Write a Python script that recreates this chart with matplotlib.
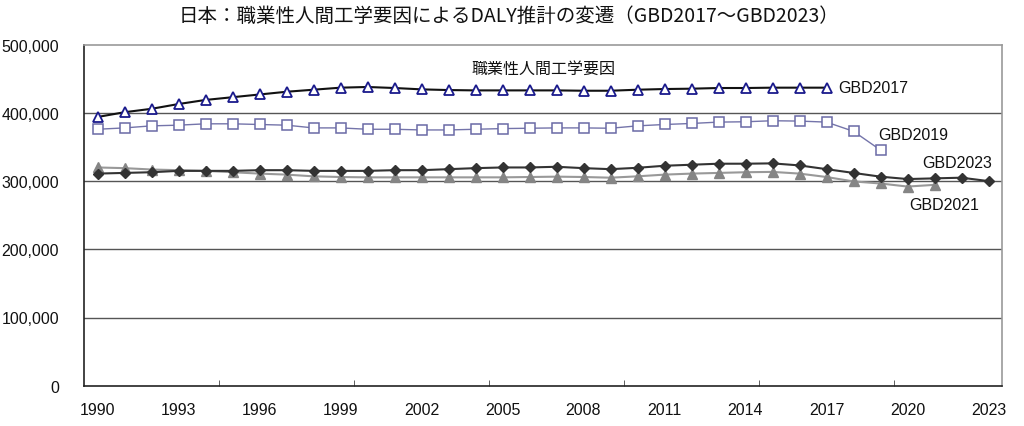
import matplotlib
matplotlib.use("Agg")
import matplotlib.pyplot as plt
from matplotlib.ticker import FuncFormatter, FixedLocator
import numpy as np

JP = ["Noto Sans CJK JP", "DejaVu Sans"]
LAT = ["Liberation Sans", "DejaVu Sans"]

years_2017 = list(range(1990, 2018))
years_2019 = list(range(1990, 2020))
years_2021 = list(range(1990, 2022))
years_2023 = list(range(1990, 2024))

gbd2017 = [394000, 401000, 406000, 413000, 419000, 423000, 427000, 431000, 434000, 437000,
           438000, 436500, 434500, 433500, 433000, 433000, 433000, 433000, 432500, 432500,
           434000, 435000, 435500, 436500, 436500, 437000, 437000, 437000]
gbd2019 = [376000, 378000, 381000, 382000, 384000, 384000, 383000, 382000, 378000, 378000,
           376000, 376000, 375000, 375000, 376000, 377000, 377500, 378000, 378000, 377500,
           381000, 383000, 384500, 386500, 387000, 388500, 388000, 386500, 373000, 345500]
gbd2021 = [320000, 319000, 317000, 316000, 315000, 313000, 311000, 309500, 307000, 306000,
           305500, 305500, 305500, 305500, 305500, 305500, 306000, 306500, 306000, 305000,
           307000, 309500, 311000, 312000, 313000, 313500, 311000, 306000, 299500, 296500,
           292000, 294500]
gbd2023 = [311000, 312000, 313000, 315000, 315000, 315000, 316000, 316000, 315000, 315000,
           315000, 316000, 316000, 317500, 319000, 320000, 320000, 321000, 319000, 317500,
           319500, 322500, 324000, 325500, 325500, 326000, 323000, 317500, 312000, 306500,
           303000, 304000, 305000, 300000]

y_ticks = [0, 100000, 200000, 300000, 400000, 500000]
x_ticks = list(range(1990, 2024, 3))

fig = plt.figure(figsize=(10.24, 4.27), dpi=100)
ax = fig.add_axes([84 / 1024, 1 - 386.7 / 427, (1002 - 84) / 1024, (386.7 - 45.7) / 427])

# gridlines
for v in y_ticks[1:-1]:
    ax.axhline(v, color="#555555", lw=1.0, zorder=1)

ax.plot(years_2021, gbd2021, color="#999999", lw=1.5, marker="^", ms=7,
        mfc="#858585", mec="#858585", zorder=2)
ax.plot(years_2023, gbd2023, color="#333333", lw=1.5, marker="D", ms=5.5,
        mfc="#333333", mec="#333333", zorder=3)
ax.plot(years_2019, gbd2019, color="#7474aa", lw=1.0, marker="s", ms=7,
        mfc="white", mec="#6a6aa6", mew=1.1, zorder=3)
ax.plot(years_2017, gbd2017, color="#111111", lw=1.5, marker="^", ms=6.5,
        mfc="white", mec="#1a1a8c", mew=1.3, zorder=4)

ax.set_xlim(1989.5, 2023.5)
ax.set_ylim(0, 500000)
ax.set_yticks(y_ticks)
ax.yaxis.set_major_formatter(FuncFormatter(lambda v, p: f"{int(v):,}"))
ax.set_xticks(x_ticks)
ax.xaxis.set_minor_locator(FixedLocator(np.arange(years_2023[0] + 4.5, years_2023[-1], 5)))
ax.tick_params(axis="x", which="major", length=0, pad=12)
ax.tick_params(axis="x", which="minor", direction="in", length=4, color="#444444")
ax.tick_params(axis="y", length=0, pad=18)
for lab in ax.get_xticklabels() + ax.get_yticklabels():
    lab.set_family(LAT)
    lab.set_fontsize(11.5)
    lab.set_color("#111111")

ax.spines["left"].set_color("#222222")
ax.spines["bottom"].set_color("#222222")
ax.spines["top"].set_color("#999999")
ax.spines["right"].set_color("#999999")
for s in ax.spines.values():
    s.set_linewidth(1.2)

lab_kw = dict(family=LAT, fontsize=11.5, color="#111111", va="center", ha="left")
ax.text(2017.45, 437000, "GBD2017", **lab_kw)
ax.text(2018.9, 369000, "GBD2019", **lab_kw)
ax.text(2020.55, 327000, "GBD2023", **lab_kw)
ax.text(2020.05, 265000, "GBD2021", **lab_kw)

ax.text(0.5, 0.93, "職業性人間工学要因", transform=ax.transAxes, ha="center", va="center",
        family=JP, fontsize=11.5, color="#111111")

fig.text(0.497, 0.962, "日本：職業性人間工学要因によるDALY推計の変遷（GBD2017～GBD2023）",
         ha="center", va="center", family=JP, fontsize=14, color="#111111")

fig.savefig("out.png", dpi=100)
